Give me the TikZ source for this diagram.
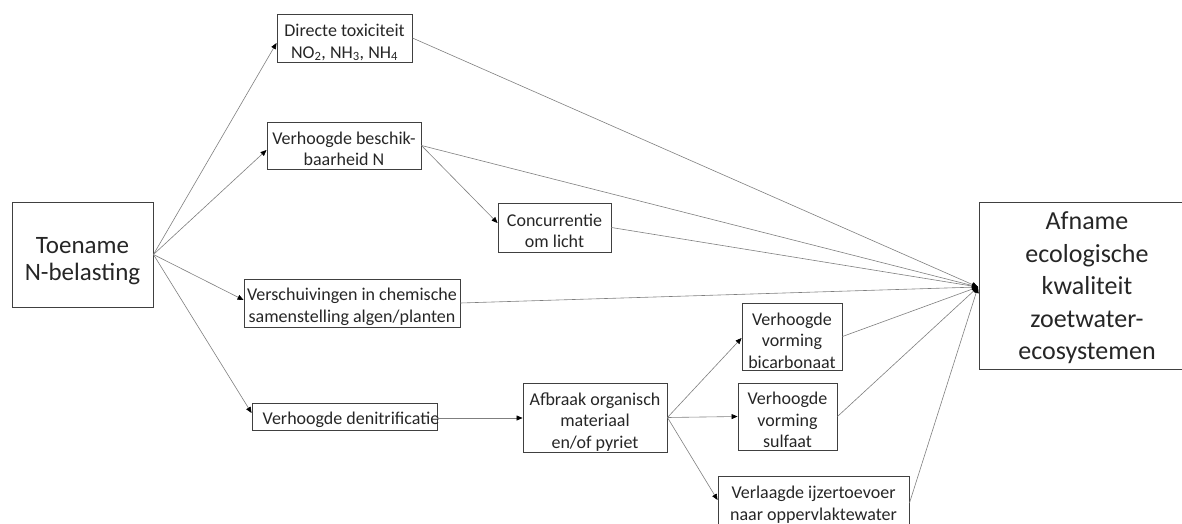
\documentclass[tikz,border=0pt]{standalone}
\usepackage{fontspec}
\setmainfont{Carlito}
\usetikzlibrary{arrows.meta,calc}
\definecolor{boxline}{HTML}{404040}
\definecolor{conline}{HTML}{7F7F7F}
\definecolor{txt}{HTML}{262626}
\newcommand{\txtlines}[2]{\raisebox{#1}[0pt][0pt]{\begin{tabular}{@{}c@{}}#2\end{tabular}}}
\tikzset{
  box/.style={draw=boxline, line width=0.9pt, inner sep=0pt,
    text=txt, font=\fontsize{18}{21.5}\selectfont},
  conn/.style={draw=conline, line width=0.6pt,
    -{Triangle[color=black,length=6pt,width=5pt]}},
}
\begin{document}
\begin{tikzpicture}[x=1pt,y=-1pt]
\useasboundingbox (0,0) rectangle (1182,524);
\node[box, font=\fontsize{25}{27}\selectfont, minimum width=141pt, minimum height=105pt] (toe) at (82.5,254.5) {\txtlines{-13.3pt}{Toename\\N-belasting}};
\node[box, minimum width=135pt, minimum height=48pt] (tox) at (344.5,38) {\txtlines{-9.5pt}{Directe toxiciteit\\NO\textsubscript{2}, NH\textsubscript{3}, NH\textsubscript{4}}};
\node[box, minimum width=154pt, minimum height=47pt] (besch) at (344,145.5) {\txtlines{-9.5pt}{Verhoogde beschik-\\baarheid N}};
\node[box, minimum width=113pt, minimum height=49pt] (conc) at (554.5,227.5) {\txtlines{-9.5pt}{Concurrentie\\om licht}};
\node[box, minimum width=216pt, minimum height=48pt] (versch) at (352,303) {\txtlines{-8.5pt}{Verschuivingen in chemische\\samenstelling algen/planten}};
\node[box, minimum width=185pt, minimum height=27pt] (denit) at (344.5,416.5) {\txtlines{-8pt}{\makebox[0pt]{\hspace{13pt}Verhoogde denitrificatie}}};
\node[box, minimum width=144pt, minimum height=69pt] (afbr) at (595,417.5) {\txtlines{-9.5pt}{Afbraak organisch\\materiaal\\en/of pyriet}};
\node[box, minimum width=100pt, minimum height=67pt] (bic) at (792,336.5) {\txtlines{-10.5pt}{Verhoogde\\vorming\\bicarbonaat}};
\node[box, minimum width=99pt, minimum height=67pt] (sulf) at (787.5,416.5) {\txtlines{-10pt}{Verhoogde\\vorming\\sulfaat}};
\node[box, minimum width=191pt, minimum height=56pt] (ijz) at (813.5,504) {\txtlines{-5.5pt}{Verlaagde ijzertoevoer\\naar oppervlaktewater}};
\node[box, font=\fontsize{26}{32.5}\selectfont, minimum width=216pt, minimum height=167pt] (afn) at (1087,285.5) {\txtlines{-9pt}{Afname\\ecologische\\kwaliteit\\zoetwater-\\ecosystemen}};
\coordinate (conv) at (978,287);
% from Toename
\draw[conn] (toe.east) -- ([yshift=-5pt]tox.west);
\draw[conn] (toe.east) -- ([yshift=-4.5pt]besch.west);
\draw[conn] (toe.east) -- ([yshift=3pt]versch.west);
\draw[conn] (toe.east) -- ([yshift=3.5pt]denit.west);
% intermediate
\draw[conn] (besch.east) -- ([yshift=4.5pt]conc.west);
\draw[conn] ([yshift=-1.5pt]denit.east) -- ([yshift=-1.5pt]denit.east -| afbr.west);
\draw[conn] (afbr.east) -- ([yshift=-1.5pt]bic.west);
\draw[conn] (afbr.east) -- (sulf.west);
\draw[conn] (afbr.east) -- ([yshift=4pt]ijz.west);
% to Afname
\draw[conn] (tox.east) -- (conv);
\draw[conn] (besch.east) -- (conv);
\draw[conn] (conc.east) -- (conv);
\draw[conn] (versch.east) -- (conv);
\draw[conn] (bic.east) -- (conv);
\draw[conn] (sulf.east) -- (conv);
\draw[conn] ([yshift=1pt]ijz.east) -- (conv);
\end{tikzpicture}
\end{document}
